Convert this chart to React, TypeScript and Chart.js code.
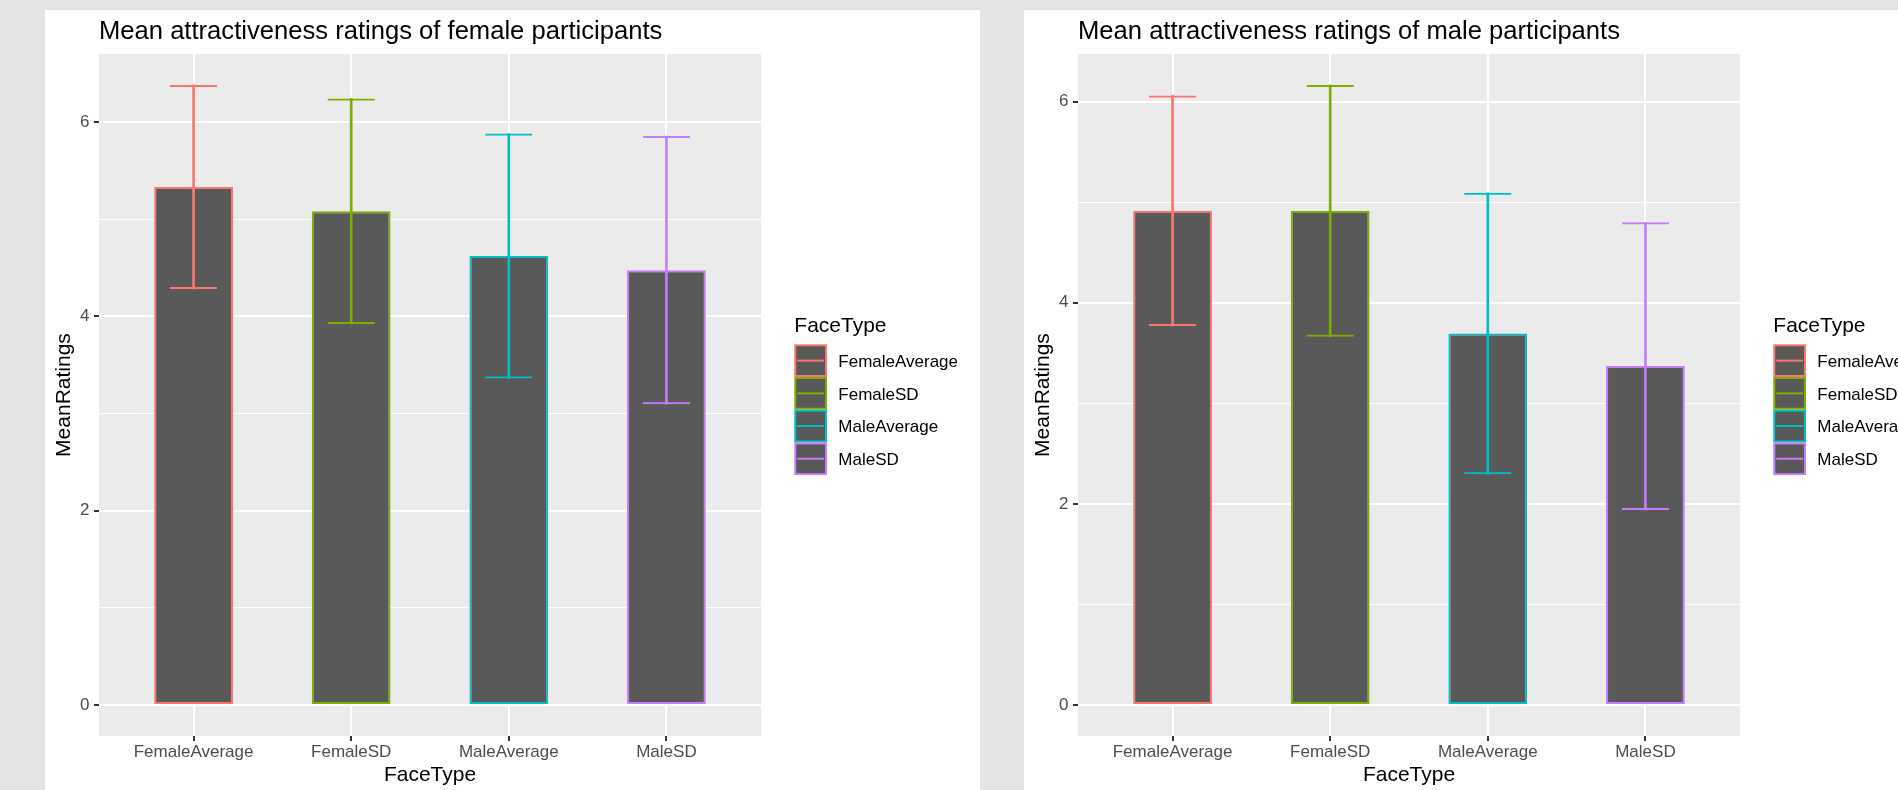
import React, { useEffect, useRef } from 'react';
import { Chart, registerables } from 'chart.js';

Chart.register(...registerables);

const FONT = '"Liberation Sans", Arial, Helvetica, sans-serif';
Chart.defaults.font.family = FONT;

// ---------- data ----------
const categories = ['FemaleAverage', 'FemaleSD', 'MaleAverage', 'MaleSD'];
const categoryColors = ['#F8766D', '#7CAE00', '#00BFC4', '#C77CFF'];

const femaleTitle = 'Mean attractiveness ratings of female participants';
const femaleMeans = [5.33, 5.08, 4.62, 4.475];
const femaleSD = [1.05, 1.16, 1.26, 1.38];

const maleTitle = 'Mean attractiveness ratings of male participants';
const maleMeans = [4.915, 4.913, 3.694, 3.37];
const maleSD = [1.147, 1.252, 1.4, 1.43];

const yTicks = [0, 1, 2, 3, 4, 5, 6];
const yMajorTicks = [0, 2, 4, 6];

const xTitle = 'FaceType';
const yTitle = 'MeanRatings';
const legendTitle = 'FaceType';

// ---------- styles ----------
const PAGE_BG = '#e4e4e4';
const PANEL_BG = '#ebebeb';
const BAR_FILL = '#595959';
const PANEL_W = 935;
const PANEL_H = 780;

const panelBackground = {
  id: 'panelBackground',
  beforeDraw(chart: any) {
    const { ctx, chartArea: a, width, height } = chart;
    ctx.save();
    ctx.fillStyle = '#ffffff';
    ctx.fillRect(0, 0, width, height);
    ctx.fillStyle = PANEL_BG;
    ctx.fillRect(a.left, a.top, a.right - a.left, a.bottom - a.top);
    ctx.restore();
  },
};

const faceLegend = {
  id: 'faceLegend',
  afterDraw(chart: any) {
    const { ctx, chartArea: a } = chart;
    const key = 32.7;
    const x0 = a.right + 33.3;
    const cy = (a.top + a.bottom) / 2;
    const keysTop = cy - (categories.length * key) / 2 + 14.7;
    ctx.save();
    ctx.textAlign = 'left';
    ctx.textBaseline = 'alphabetic';
    ctx.fillStyle = '#000000';
    ctx.font = `21px ${FONT}`;
    ctx.fillText(legendTitle, x0, keysTop - 12.6);
    categories.forEach((c, i) => {
      const y = keysTop + i * key;
      ctx.fillStyle = BAR_FILL;
      ctx.fillRect(x0 + 1, y + 1, key - 2, key - 2);
      ctx.strokeStyle = categoryColors[i];
      ctx.lineWidth = 2;
      ctx.strokeRect(x0 + 1, y + 1, key - 2, key - 2);
      ctx.beginPath();
      ctx.moveTo(x0 + 3, y + key / 2);
      ctx.lineTo(x0 + key - 3, y + key / 2);
      ctx.stroke();
      ctx.fillStyle = '#000000';
      ctx.font = `17px ${FONT}`;
      ctx.textBaseline = 'middle';
      ctx.fillText(c, x0 + 44, y + key / 2 + 1.5);
    });
    ctx.restore();
  },
};

function buildConfig(title: string, means: number[], sds: number[]): any {
  const highs = means.map((m, i) => m + sds[i]);
  const lows = means.map((m, i) => m - sds[i]);
  const dataMax = Math.max(...highs, 0);
  const dataMin = Math.min(0, ...lows);
  const span = dataMax - dataMin;
  const n = categories.length;
  const errData = means.map((_, i) => ({ x: i, y: [lows[i], highs[i]] }));

  return {
    type: 'bar',
    data: {
      datasets: [
        {
          label: 'stem',
          data: errData,
          backgroundColor: categoryColors,
          borderWidth: 0,
          barThickness: 2,
          grouped: false,
          order: 0,
        },
        {
          label: 'caps',
          data: errData,
          backgroundColor: 'rgba(0,0,0,0)',
          borderColor: categoryColors,
          borderWidth: { top: 2, bottom: 2, left: 0, right: 0 },
          borderSkipped: false,
          barPercentage: 0.3,
          categoryPercentage: 1,
          grouped: false,
          order: 0,
        },
        {
          label: 'FaceType',
          data: means.map((m, i) => ({ x: i, y: m })),
          backgroundColor: BAR_FILL,
          borderColor: categoryColors,
          borderWidth: 2,
          borderSkipped: false,
          barPercentage: 0.5,
          categoryPercentage: 1,
          grouped: false,
          order: 1,
        },
      ],
    },
    options: {
      responsive: false,
      maintainAspectRatio: false,
      animation: false,
      devicePixelRatio: 1,
      events: [],
      layout: { padding: { left: 0, top: 0, right: 219, bottom: 0 } },
      plugins: {
        legend: { display: false },
        tooltip: { enabled: false },
        title: {
          display: true,
          text: title,
          align: 'start',
          fullSize: false,
          color: '#000000',
          font: { size: 25.6, weight: 'normal', family: FONT },
          padding: { top: 6.5, bottom: 6.8 },
        },
      },
      scales: {
        x: {
          type: 'linear',
          min: -0.6,
          max: n - 1 + 0.6,
          offset: false,
          afterBuildTicks: (s: any) => {
            s.ticks = categories.map((_, i) => ({ value: i }));
          },
          afterFit: (s: any) => {
            s.height = 54;
          },
          border: { display: false },
          grid: {
            offset: false,
            color: '#ffffff',
            lineWidth: 2,
            tickColor: '#333333',
            tickLength: 5,
            tickWidth: 2,
          },
          ticks: {
            autoSkip: false,
            maxRotation: 0,
            minRotation: 0,
            padding: 1.2,
            color: '#4d4d4d',
            font: { size: 17, family: FONT },
            callback: (v: any) => categories[v] ?? '',
          },
          title: {
            display: true,
            text: xTitle,
            color: '#000000',
            font: { size: 21, family: FONT },
            padding: { top: 0, bottom: 2 },
          },
        },
        y: {
          type: 'linear',
          min: dataMin - 0.05 * span,
          max: dataMax + 0.05 * span,
          afterBuildTicks: (s: any) => {
            s.ticks = yTicks.map((v) => ({ value: v }));
          },
          afterFit: (s: any) => {
            s.width = 54;
          },
          border: { display: false },
          grid: {
            color: '#ffffff',
            lineWidth: (ctx: any) => (ctx.tick && yMajorTicks.includes(ctx.tick.value) ? 2 : 1.1),
            tickColor: (ctx: any) =>
              ctx.tick && yMajorTicks.includes(ctx.tick.value) ? '#333333' : 'rgba(0,0,0,0)',
            tickLength: 5,
            tickWidth: 2,
          },
          ticks: {
            padding: 4.5,
            color: '#4d4d4d',
            font: { size: 17, family: FONT },
            callback: (v: any) => (yMajorTicks.includes(v) ? String(v) : ''),
          },
          title: {
            display: true,
            text: yTitle,
            color: '#000000',
            font: { size: 21, family: FONT },
            padding: { top: 6.5, bottom: 0 },
          },
        },
      },
    },
    plugins: [panelBackground, faceLegend],
  };
}

function Panel(props: { left: number; title: string; means: number[]; sds: number[] }) {
  const ref = useRef<HTMLCanvasElement | null>(null);
  useEffect(() => {
    if (!ref.current) return;
    const chart = new Chart(ref.current, buildConfig(props.title, props.means, props.sds));
    return () => chart.destroy();
  }, []);
  return (
    <div style={{ position: 'absolute', left: props.left, top: 10, width: PANEL_W, height: PANEL_H }}>
      <canvas
        ref={ref}
        width={PANEL_W}
        height={PANEL_H}
        style={{ display: 'block', width: PANEL_W, height: PANEL_H }}
      />
    </div>
  );
}

export default function App() {
  return (
    <div
      style={{
        position: 'fixed',
        left: 0,
        top: 0,
        width: 1898,
        height: 790,
        background: PAGE_BG,
        overflow: 'hidden',
      }}
    >
      <Panel left={45} title={femaleTitle} means={femaleMeans} sds={femaleSD} />
      <Panel left={1024} title={maleTitle} means={maleMeans} sds={maleSD} />
    </div>
  );
}
